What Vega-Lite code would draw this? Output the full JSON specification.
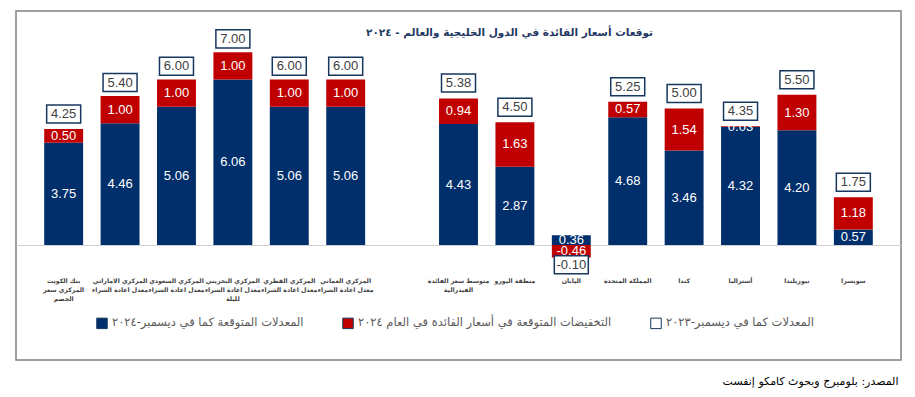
{
  "$schema": "https://vega.github.io/schema/vega-lite/v6.json",
  "autosize": {"type": "none"},
  "width": 885,
  "height": 349,
  "padding": {"left": 16, "top": 11, "right": 14, "bottom": 37},
  "background": "white",
  "config": {
    "view": {"stroke": "#808080", "strokeWidth": 1.5},
    "font": "Liberation Sans, DejaVu Sans, sans-serif"
  },
  "title": {
    "text": "توقعات أسعار الفائدة في الدول الخليجية والعالم - ٢٠٢٤",
    "anchor": "middle",
    "dx": 51,
    "offset": -27,
    "fontSize": 10.5,
    "fontWeight": "bold",
    "color": "#1F3864",
    "font": "DejaVu Sans"
  },
  "datasets": {
    "bars": [
      {"country": "بنك الكويت|المركزي سعر|الخصم", "series": "المعدلات المتوقعة كما في ديسمبر-٢٠٢٤", "k": 1, "value": 3.75},
      {"country": "بنك الكويت|المركزي سعر|الخصم", "series": "التخفيضات المتوقعة في أسعار الفائدة في العام ٢٠٢٤", "k": 2, "value": 0.50},
      {"country": "المركزي الاماراتي|معدل اعادة الشراء", "series": "المعدلات المتوقعة كما في ديسمبر-٢٠٢٤", "k": 1, "value": 4.46},
      {"country": "المركزي الاماراتي|معدل اعادة الشراء", "series": "التخفيضات المتوقعة في أسعار الفائدة في العام ٢٠٢٤", "k": 2, "value": 1.00},
      {"country": "المركزي السعودي|معدل اعادة الشراء", "series": "المعدلات المتوقعة كما في ديسمبر-٢٠٢٤", "k": 1, "value": 5.06},
      {"country": "المركزي السعودي|معدل اعادة الشراء", "series": "التخفيضات المتوقعة في أسعار الفائدة في العام ٢٠٢٤", "k": 2, "value": 1.00},
      {"country": "المركزي البحريني|معدل اعادة الشراء|لليلة", "series": "المعدلات المتوقعة كما في ديسمبر-٢٠٢٤", "k": 1, "value": 6.06},
      {"country": "المركزي البحريني|معدل اعادة الشراء|لليلة", "series": "التخفيضات المتوقعة في أسعار الفائدة في العام ٢٠٢٤", "k": 2, "value": 1.00},
      {"country": "المركزي القطري|معدل اعادة الشراء", "series": "المعدلات المتوقعة كما في ديسمبر-٢٠٢٤", "k": 1, "value": 5.06},
      {"country": "المركزي القطري|معدل اعادة الشراء", "series": "التخفيضات المتوقعة في أسعار الفائدة في العام ٢٠٢٤", "k": 2, "value": 1.00},
      {"country": "المركزي العماني|معدل اعادة الشراء", "series": "المعدلات المتوقعة كما في ديسمبر-٢٠٢٤", "k": 1, "value": 5.06},
      {"country": "المركزي العماني|معدل اعادة الشراء", "series": "التخفيضات المتوقعة في أسعار الفائدة في العام ٢٠٢٤", "k": 2, "value": 1.00},
      {"country": "متوسط سعر الفائدة|الفيدرالية", "series": "المعدلات المتوقعة كما في ديسمبر-٢٠٢٤", "k": 1, "value": 4.43},
      {"country": "متوسط سعر الفائدة|الفيدرالية", "series": "التخفيضات المتوقعة في أسعار الفائدة في العام ٢٠٢٤", "k": 2, "value": 0.94},
      {"country": "منطقة اليورو", "series": "المعدلات المتوقعة كما في ديسمبر-٢٠٢٤", "k": 1, "value": 2.87},
      {"country": "منطقة اليورو", "series": "التخفيضات المتوقعة في أسعار الفائدة في العام ٢٠٢٤", "k": 2, "value": 1.63},
      {"country": "اليابان", "series": "المعدلات المتوقعة كما في ديسمبر-٢٠٢٤", "k": 1, "value": 0.36},
      {"country": "اليابان", "series": "التخفيضات المتوقعة في أسعار الفائدة في العام ٢٠٢٤", "k": 2, "value": -0.46},
      {"country": "المملكة المتحدة", "series": "المعدلات المتوقعة كما في ديسمبر-٢٠٢٤", "k": 1, "value": 4.68},
      {"country": "المملكة المتحدة", "series": "التخفيضات المتوقعة في أسعار الفائدة في العام ٢٠٢٤", "k": 2, "value": 0.57},
      {"country": "كندا", "series": "المعدلات المتوقعة كما في ديسمبر-٢٠٢٤", "k": 1, "value": 3.46},
      {"country": "كندا", "series": "التخفيضات المتوقعة في أسعار الفائدة في العام ٢٠٢٤", "k": 2, "value": 1.54},
      {"country": "أستراليا", "series": "المعدلات المتوقعة كما في ديسمبر-٢٠٢٤", "k": 1, "value": 4.32},
      {"country": "أستراليا", "series": "التخفيضات المتوقعة في أسعار الفائدة في العام ٢٠٢٤", "k": 2, "value": 0.03},
      {"country": "نيوزيلندا", "series": "المعدلات المتوقعة كما في ديسمبر-٢٠٢٤", "k": 1, "value": 4.20},
      {"country": "نيوزيلندا", "series": "التخفيضات المتوقعة في أسعار الفائدة في العام ٢٠٢٤", "k": 2, "value": 1.30},
      {"country": "سويسرا", "series": "المعدلات المتوقعة كما في ديسمبر-٢٠٢٤", "k": 1, "value": 0.57},
      {"country": "سويسرا", "series": "التخفيضات المتوقعة في أسعار الفائدة في العام ٢٠٢٤", "k": 2, "value": 1.18}
    ],
    "totals": [
      {"country": "بنك الكويت|المركزي سعر|الخصم", "series": "المعدلات كما في ديسمبر-٢٠٢٣", "total": 4.25},
      {"country": "المركزي الاماراتي|معدل اعادة الشراء", "series": "المعدلات كما في ديسمبر-٢٠٢٣", "total": 5.40},
      {"country": "المركزي السعودي|معدل اعادة الشراء", "series": "المعدلات كما في ديسمبر-٢٠٢٣", "total": 6.00},
      {"country": "المركزي البحريني|معدل اعادة الشراء|لليلة", "series": "المعدلات كما في ديسمبر-٢٠٢٣", "total": 7.00},
      {"country": "المركزي القطري|معدل اعادة الشراء", "series": "المعدلات كما في ديسمبر-٢٠٢٣", "total": 6.00},
      {"country": "المركزي العماني|معدل اعادة الشراء", "series": "المعدلات كما في ديسمبر-٢٠٢٣", "total": 6.00},
      {"country": "متوسط سعر الفائدة|الفيدرالية", "series": "المعدلات كما في ديسمبر-٢٠٢٣", "total": 5.38},
      {"country": "منطقة اليورو", "series": "المعدلات كما في ديسمبر-٢٠٢٣", "total": 4.50},
      {"country": "اليابان", "series": "المعدلات كما في ديسمبر-٢٠٢٣", "total": -0.10},
      {"country": "المملكة المتحدة", "series": "المعدلات كما في ديسمبر-٢٠٢٣", "total": 5.25},
      {"country": "كندا", "series": "المعدلات كما في ديسمبر-٢٠٢٣", "total": 5.00},
      {"country": "أستراليا", "series": "المعدلات كما في ديسمبر-٢٠٢٣", "total": 4.35},
      {"country": "نيوزيلندا", "series": "المعدلات كما في ديسمبر-٢٠٢٣", "total": 5.50},
      {"country": "سويسرا", "series": "المعدلات كما في ديسمبر-٢٠٢٣", "total": 1.75}
    ]
  },
  "layer": [
    {
      "data": {"name": "bars"},
      "mark": {"type": "bar", "strokeWidth": 0},
      "encoding": {
        "x": {
          "field": "country",
          "type": "nominal",
          "sort": null,
          "scale": {
            "domain": ["بنك الكويت|المركزي سعر|الخصم", "المركزي الاماراتي|معدل اعادة الشراء", "المركزي السعودي|معدل اعادة الشراء", "المركزي البحريني|معدل اعادة الشراء|لليلة", "المركزي القطري|معدل اعادة الشراء", "المركزي العماني|معدل اعادة الشراء", " ", "متوسط سعر الفائدة|الفيدرالية", "منطقة اليورو", "اليابان", "المملكة المتحدة", "كندا", "أستراليا", "نيوزيلندا", "سويسرا"],
            "paddingInner": 0.31,
            "paddingOuter": 0.5
          },
          "axis": {
            "orient": "bottom",
            "offset": -88,
            "domain": false,
            "ticks": false,
            "grid": false,
            "labelAngle": 0,
            "labelFont": "DejaVu Sans",
            "labelFontSize": 6.2,
            "labelFontWeight": "bold",
            "labelColor": "#404040",
            "labelPadding": 5,
            "labelBaseline": "top",
            "labelLineHeight": 9,
            "labelLimit": 0,
            "labelOverlap": false,
            "labelExpr": "split(datum.label, '|')",
            "title": "المصدر: بلومبرج وبحوث كامكو إنفست",
            "titleFont": "DejaVu Sans",
            "titleFontSize": 11,
            "titleFontWeight": "normal",
            "titleColor": "#000000",
            "titleAlign": "right",
            "titleAnchor": "end",
            "titleBaseline": "alphabetic",
            "titleX": 882,
            "titleY": 112
          }
        },
        "y": {
          "field": "value",
          "type": "quantitative",
          "stack": "zero",
          "scale": {"domain": [-4.21, 8.57], "nice": false, "zero": false},
          "axis": {"values": [0], "grid": true, "gridColor": "#D0D0D0", "gridWidth": 1, "labels": false, "ticks": false, "domain": false, "title": null}
        },
        "fill": {
          "field": "series",
          "type": "nominal",
          "scale": {
            "domain": ["المعدلات المتوقعة كما في ديسمبر-٢٠٢٤", "التخفيضات المتوقعة في أسعار الفائدة في العام ٢٠٢٤", "المعدلات كما في ديسمبر-٢٠٢٣"],
            "range": ["#002F6C", "#C00000", "#FFFFFF"]
          },
          "legend": {
            "orient": "none",
            "legendX": 80,
            "legendY": 306,
            "direction": "horizontal",
            "title": null,
            "padding": 0,
            "symbolType": "square",
            "symbolSize": 110,
            "symbolStrokeColor": "#17375E",
            "symbolStrokeWidth": 1,
            "labelFont": "DejaVu Sans",
            "labelFontSize": 11.5,
            "labelColor": "#595959",
            "labelLimit": 0,
            "columnPadding": 36
          }
        },
        "order": {"field": "k", "type": "quantitative"}
      }
    },
    {
      "data": {"name": "bars"},
      "mark": {
        "type": "text",
        "color": "white",
        "fontSize": 13,
        "baseline": "middle",
        "text": {"expr": "replace(format(datum.value, '.2f'), '\u2212', '-')"}
      },
      "encoding": {
        "x": {"field": "country", "type": "nominal", "sort": null},
        "y": {"field": "value", "type": "quantitative", "stack": "zero", "bandPosition": 0.5},
        "detail": {"field": "series"},
        "order": {"field": "k", "type": "quantitative"}
      }
    },
    {
      "data": {"name": "totals"},
      "transform": [{"filter": "datum.total >= 0"}],
      "layer": [
        {
          "mark": {
            "type": "point",
            "shape": "M-1,-0.53L1,-0.53L1,0.53L-1,0.53Z",
            "size": 1156,
            "filled": true,
            "opacity": 1,
            "stroke": "#17375E",
            "strokeWidth": 1.5,
            "yOffset": -15
          },
          "encoding": {
            "x": {"field": "country", "type": "nominal", "sort": null},
            "y": {"field": "total", "type": "quantitative"},
            "fill": {"field": "series", "type": "nominal"}
          }
        },
        {
          "mark": {
            "type": "text",
            "color": "#404040",
            "fontSize": 13,
            "baseline": "middle",
            "yOffset": -15,
            "text": {"expr": "replace(format(datum.total, '.2f'), '\u2212', '-')"}
          },
          "encoding": {
            "x": {"field": "country", "type": "nominal", "sort": null},
            "y": {"field": "total", "type": "quantitative"}
          }
        }
      ]
    },
    {
      "data": {"name": "totals"},
      "transform": [{"filter": "datum.total < 0"}],
      "layer": [
        {
          "mark": {
            "type": "point",
            "shape": "M-1,-0.53L1,-0.53L1,0.53L-1,0.53Z",
            "size": 1156,
            "filled": true,
            "opacity": 1,
            "stroke": "#17375E",
            "strokeWidth": 1.5,
            "yOffset": 17
          },
          "encoding": {
            "x": {"field": "country", "type": "nominal", "sort": null},
            "y": {"field": "total", "type": "quantitative"},
            "fill": {"field": "series", "type": "nominal"}
          }
        },
        {
          "mark": {
            "type": "text",
            "color": "#404040",
            "fontSize": 13,
            "baseline": "middle",
            "yOffset": 17,
            "text": {"expr": "replace(format(datum.total, '.2f'), '\u2212', '-')"}
          },
          "encoding": {
            "x": {"field": "country", "type": "nominal", "sort": null},
            "y": {"field": "total", "type": "quantitative"}
          }
        }
      ]
    }
  ]
}
